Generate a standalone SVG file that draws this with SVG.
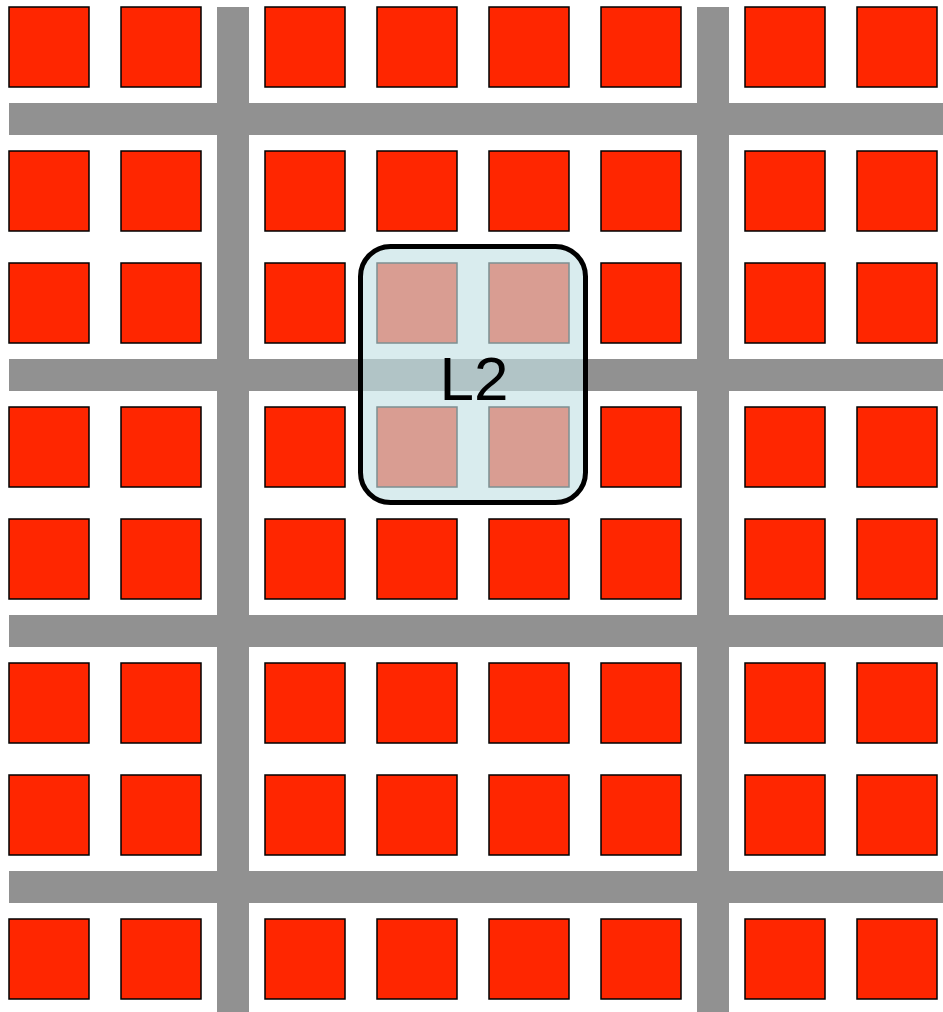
<svg xmlns="http://www.w3.org/2000/svg" width="943" height="1012" viewBox="0 0 943 1012">
<defs>
<style>
.bar{fill:#919191}
.sq{fill:#ff2600;stroke:#000;stroke-width:1.5}
.l2{fill:rgb(195,225,228);fill-opacity:0.64;stroke:#000;stroke-width:5}
.lbl{font-family:"Liberation Sans",Arial,sans-serif;font-size:62px;fill:#000}
</style>
<symbol id="s" overflow="visible"><rect class="sq" x="0" y="0" width="80" height="80"/></symbol>
</defs>
<rect width="943" height="1012" fill="#fff"/>
<g id="bars">
<rect class="bar" x="217" y="7" width="32" height="1005"/>
<rect class="bar" x="697" y="7" width="32" height="1005"/>
<rect class="bar" x="9" y="103" width="934" height="32"/>
<rect class="bar" x="9" y="359" width="934" height="32"/>
<rect class="bar" x="9" y="615" width="934" height="32"/>
<rect class="bar" x="9" y="871" width="934" height="32"/>
</g>
<g id="squares">
<g id="row1"><use href="#s" x="9" y="7"/><use href="#s" x="121" y="7"/><use href="#s" x="265" y="7"/><use href="#s" x="377" y="7"/><use href="#s" x="489" y="7"/><use href="#s" x="601" y="7"/><use href="#s" x="745" y="7"/><use href="#s" x="857" y="7"/></g>
<g id="row2"><use href="#s" x="9" y="151"/><use href="#s" x="121" y="151"/><use href="#s" x="265" y="151"/><use href="#s" x="377" y="151"/><use href="#s" x="489" y="151"/><use href="#s" x="601" y="151"/><use href="#s" x="745" y="151"/><use href="#s" x="857" y="151"/></g>
<g id="row3"><use href="#s" x="9" y="263"/><use href="#s" x="121" y="263"/><use href="#s" x="265" y="263"/><use href="#s" x="377" y="263"/><use href="#s" x="489" y="263"/><use href="#s" x="601" y="263"/><use href="#s" x="745" y="263"/><use href="#s" x="857" y="263"/></g>
<g id="row4"><use href="#s" x="9" y="407"/><use href="#s" x="121" y="407"/><use href="#s" x="265" y="407"/><use href="#s" x="377" y="407"/><use href="#s" x="489" y="407"/><use href="#s" x="601" y="407"/><use href="#s" x="745" y="407"/><use href="#s" x="857" y="407"/></g>
<g id="row5"><use href="#s" x="9" y="519"/><use href="#s" x="121" y="519"/><use href="#s" x="265" y="519"/><use href="#s" x="377" y="519"/><use href="#s" x="489" y="519"/><use href="#s" x="601" y="519"/><use href="#s" x="745" y="519"/><use href="#s" x="857" y="519"/></g>
<g id="row6"><use href="#s" x="9" y="663"/><use href="#s" x="121" y="663"/><use href="#s" x="265" y="663"/><use href="#s" x="377" y="663"/><use href="#s" x="489" y="663"/><use href="#s" x="601" y="663"/><use href="#s" x="745" y="663"/><use href="#s" x="857" y="663"/></g>
<g id="row7"><use href="#s" x="9" y="775"/><use href="#s" x="121" y="775"/><use href="#s" x="265" y="775"/><use href="#s" x="377" y="775"/><use href="#s" x="489" y="775"/><use href="#s" x="601" y="775"/><use href="#s" x="745" y="775"/><use href="#s" x="857" y="775"/></g>
<g id="row8"><use href="#s" x="9" y="919"/><use href="#s" x="121" y="919"/><use href="#s" x="265" y="919"/><use href="#s" x="377" y="919"/><use href="#s" x="489" y="919"/><use href="#s" x="601" y="919"/><use href="#s" x="745" y="919"/><use href="#s" x="857" y="919"/></g>
</g>
<g id="L2">
<rect class="l2" x="360.5" y="246.5" width="225" height="256" rx="30" ry="30"/>
<text class="lbl" x="474" y="400" text-anchor="middle">L2</text>
</g>
</svg>
